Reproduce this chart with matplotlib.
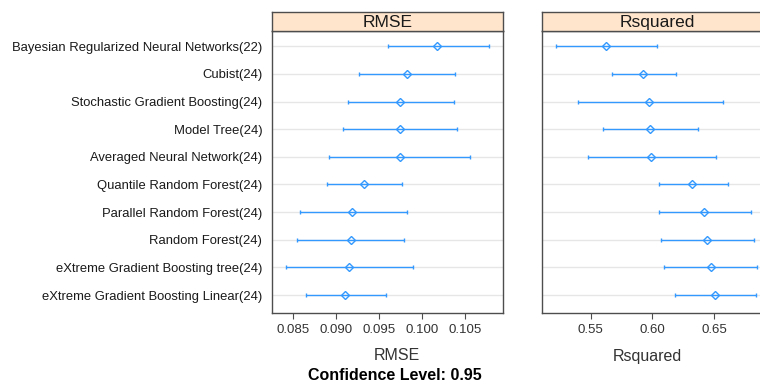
import matplotlib.pyplot as plt

plt.rcParams['font.family'] = ['Liberation Sans', 'DejaVu Sans']

# Modelos (de cima para baixo)
modelos = [
    'Bayesian Regularized Neural Networks(22)',
    'Cubist(24)',
    'Stochastic Gradient Boosting(24)',
    'Model Tree(24)',
    'Averaged Neural Network(24)',
    'Quantile Random Forest(24)',
    'Parallel Random Forest(24)',
    'Random Forest(24)',
    'eXtreme Gradient Boosting tree(24)',
    'eXtreme Gradient Boosting Linear(24)',
]

# RMSE: media e intervalo de confianca
rmse_media = [0.1018, 0.0982, 0.0975, 0.0974, 0.0974, 0.0933, 0.0919, 0.0917, 0.0915, 0.0911]
rmse_inf = [0.0960, 0.0927, 0.0914, 0.0908, 0.0892, 0.0890, 0.0858, 0.0855, 0.0842, 0.0865]
rmse_sup = [0.1078, 0.1038, 0.1037, 0.1041, 0.1056, 0.0977, 0.0982, 0.0979, 0.0989, 0.0958]

# Rsquared: media e intervalo de confianca
r2_media = [0.5627, 0.5925, 0.5976, 0.5984, 0.5992, 0.6324, 0.6421, 0.6446, 0.6473, 0.6505]
r2_inf = [0.5220, 0.5673, 0.5395, 0.5597, 0.5476, 0.6051, 0.6051, 0.6073, 0.6092, 0.6186]
r2_sup = [0.6041, 0.6189, 0.6575, 0.6367, 0.6519, 0.6610, 0.6800, 0.6821, 0.6851, 0.6840]

rmse_ticks = [0.085, 0.090, 0.095, 0.100, 0.105]
r2_ticks = [0.55, 0.60, 0.65]

azul = '#3399ff'
borda = '#4d4d4d'

fig = plt.figure(figsize=(7.6, 3.83), dpi=100)

W, H = 760, 383


def painel(x0, x1, titulo, media, inf, sup, xlim, ticks, fmt, rotulos):
    top, bot = 31, 313
    ax = fig.add_axes([x0 / W, 1 - bot / H, (x1 - x0) / W, (bot - top) / H])
    ys = list(range(len(media), 0, -1))
    for y in ys:
        ax.axhline(y, color='#e6e6e6', lw=1, zorder=0)
    xerr = [[m - l for m, l in zip(media, inf)], [s - m for m, s in zip(media, sup)]]
    ax.errorbar(media, ys, xerr=xerr, fmt='D', color=azul, mfc='none',
                mec=azul, ms=4.5, mew=1, lw=1, capsize=1.5, capthick=1)
    ax.set_xlim(*xlim)
    ax.set_ylim(0.35, 10.55)
    ax.set_xticks(ticks)
    ax.set_xticklabels([fmt.format(t) for t in ticks], fontsize=9.5, color='#333333')
    ax.tick_params(axis='x', direction='out', length=4, color=borda, pad=4)
    ax.set_yticks(ys)
    if rotulos:
        ax.set_yticklabels(modelos, fontsize=9.4, color='#1a1a1a')
        ax.tick_params(axis='y', length=0, pad=7)
    else:
        ax.set_yticklabels([])
        ax.tick_params(axis='y', length=0)
    for s in ax.spines.values():
        s.set_color(borda)
        s.set_linewidth(1)

    # faixa do titulo
    st = fig.add_axes([x0 / W, 1 - top / H, (x1 - x0) / W, 19 / H])
    st.set_facecolor('#ffe5cc')
    st.set_xticks([])
    st.set_yticks([])
    for s in st.spines.values():
        s.set_color(borda)
        s.set_linewidth(1)
    st.text(0.5, 0.45, titulo, ha='center', va='center', fontsize=12.5,
            color='#1a1a1a', transform=st.transAxes)
    return ax


painel(272, 503, 'RMSE', rmse_media, rmse_inf, rmse_sup,
       (0.08256, 0.10942), rmse_ticks, '{:.3f}', True)
painel(542, 773, 'Rsquared', r2_media, r2_inf, r2_sup,
       (0.5106, 0.6977), r2_ticks, '{:.2f}', False)

fig.text(397 / W, 1 - 356 / H, 'RMSE', ha='center', va='center', fontsize=11.5, color='#333333')
fig.text(647 / W, 1 - 356 / H, 'Rsquared', ha='center', va='center', fontsize=11.5, color='#333333')
fig.text(395 / W, 1 - 376 / H, 'Confidence Level: 0.95', ha='center', va='center',
         fontsize=11.5, fontweight='bold', color='black')

fig.savefig('out.png', dpi=100)
